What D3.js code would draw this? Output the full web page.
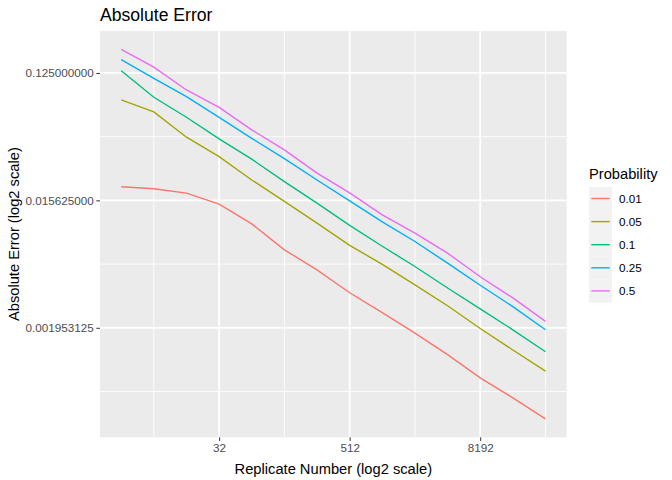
<!DOCTYPE html>
<html>
<head>
<meta charset="utf-8">
<script src="https://cdn.jsdelivr.net/npm/d3@7"></script>
<style>
  body { margin: 0; background: #fff; }
  text { font-family: "Liberation Sans", Arial, sans-serif; }
</style>
</head>
<body>
<svg id="chart" width="672" height="480"></svg>
<script>
// values
var replicates = [4, 8, 16, 32, 64, 128, 256, 512, 1024, 2048, 4096, 8192, 16384, 32768];
var probabilities = ["0.01", "0.05", "0.1", "0.25", "0.5"];
var err_p001 = [0.0195, 0.0189, 0.0176, 0.0147, 0.01065, 0.00697, 0.00503, 0.00346, 0.00250, 0.00179, 0.00126, 0.000862, 0.000622, 0.000442];
var err_p005 = [0.0805, 0.0662, 0.0438, 0.0319, 0.0218, 0.01539, 0.01078, 0.00750, 0.00550, 0.00394, 0.00280, 0.00193, 0.00136, 0.000963];
var err_p01  = [0.1297, 0.0841, 0.0607, 0.0426, 0.0306, 0.0212, 0.01494, 0.01039, 0.00739, 0.00531, 0.00374, 0.00266, 0.00189, 0.00132];
var err_p025 = [0.1553, 0.1146, 0.0849, 0.0605, 0.0430, 0.0309, 0.0218, 0.01551, 0.0110, 0.00799, 0.00561, 0.00391, 0.00276, 0.00189];
var err_p05  = [0.1834, 0.1373, 0.0947, 0.0713, 0.0494, 0.0356, 0.0244, 0.01768, 0.01235, 0.00916, 0.00661, 0.00449, 0.00318, 0.002167];
var xBreaks = [32, 512, 8192];
var xMinor = [8, 128, 2048, 32768];
var yBreaks = [0.125, 0.015625, 0.001953125];
var yMinor = [0.04419417, 0.005524272, 0.000690534];
var colors = ["#F8766D", "#A3A500", "#00BF7D", "#00B0F6", "#E76BF3"];

var series = [err_p001, err_p005, err_p01, err_p025, err_p05].map(function(vals, i) {
  return {
    prob: probabilities[i],
    color: colors[i],
    values: vals.map(function(v, j) { return { n: replicates[j], e: v }; })
  };
});

var svg = d3.select("#chart");
var pLeft = 100, pRight = 566.7, pTop = 31, pBottom = 437.3;

// ggplot style 5% expansion on the log2 scale
function expand(ext) {
  var pad = (ext[1] - ext[0]) * 0.05;
  return [Math.pow(2, ext[0] - pad), Math.pow(2, ext[1] + pad)];
}
var allErr = [].concat(err_p001, err_p005, err_p01, err_p025, err_p05);

var x = d3.scaleLog().base(2)
    .domain(expand(d3.extent(replicates.map(Math.log2))))
    .range([pLeft, pRight]);
var y = d3.scaleLog().base(2)
    .domain(expand(d3.extent(allErr.map(Math.log2))))
    .range([pBottom, pTop]);

svg.append("rect")
    .attr("x", pLeft).attr("y", pTop)
    .attr("width", pRight - pLeft).attr("height", pBottom - pTop)
    .attr("fill", "#EBEBEB");

var grid = svg.append("g");
grid.selectAll(".ymin").data(yMinor).enter().append("line")
    .attr("x1", pLeft).attr("x2", pRight)
    .attr("y1", y).attr("y2", y)
    .attr("stroke", "#fff").attr("stroke-width", 0.9);
grid.selectAll(".xmin").data(xMinor).enter().append("line")
    .attr("y1", pTop).attr("y2", pBottom)
    .attr("x1", x).attr("x2", x)
    .attr("stroke", "#fff").attr("stroke-width", 0.9);
grid.selectAll(".ymaj").data(yBreaks).enter().append("line")
    .attr("x1", pLeft).attr("x2", pRight)
    .attr("y1", y).attr("y2", y)
    .attr("stroke", "#fff").attr("stroke-width", 1.8);
grid.selectAll(".xmaj").data(xBreaks).enter().append("line")
    .attr("y1", pTop).attr("y2", pBottom)
    .attr("x1", x).attr("x2", x)
    .attr("stroke", "#fff").attr("stroke-width", 1.8);

var line = d3.line()
    .x(function(d) { return x(d.n); })
    .y(function(d) { return y(d.e); });

svg.selectAll(".series")
    .data(series)
    .enter()
  .append("path")
    .attr("class", "series")
    .attr("fill", "none")
    .attr("stroke", function(d) { return d.color; })
    .attr("stroke-width", 1.4)
    .attr("d", function(d) { return line(d.values); });

var xAxis = svg.append("g")
    .attr("transform", "translate(0," + pBottom + ")")
    .call(d3.axisBottom(x).tickValues(xBreaks).tickFormat(d3.format("d")).tickSizeInner(3.7).tickSizeOuter(0).tickPadding(2.5));
var yAxis = svg.append("g")
    .attr("transform", "translate(" + pLeft + ",0)")
    .call(d3.axisLeft(y).tickValues(yBreaks).tickFormat(d3.format(".9f")).tickSizeInner(3.7).tickSizeOuter(0).tickPadding(2.5));

[xAxis, yAxis].forEach(function(a) {
  a.select(".domain").remove();
  a.selectAll(".tick line").attr("stroke", "#333333").attr("stroke-width", 1);
  a.selectAll(".tick text").attr("fill", "#4D4D4D").style("font-size", "11.7px")
      .style("font-family", "'Liberation Sans', Arial, sans-serif");
});

svg.append("text")
    .attr("x", pLeft).attr("y", 21)
    .style("font-size", "17.6px")
    .text("Absolute Error");

svg.append("text")
    .attr("x", (pLeft + pRight) / 2).attr("y", 474)
    .attr("text-anchor", "middle")
    .style("font-size", "14.7px")
    .text("Replicate Number (log2 scale)");

svg.append("text")
    .attr("transform", "translate(19," + ((pTop + pBottom) / 2) + ") rotate(-90)")
    .attr("text-anchor", "middle")
    .style("font-size", "14.7px")
    .text("Absolute Error (log2 scale)");

// legend
var legend = svg.append("g").attr("transform", "translate(589,0)");
legend.append("text")
    .attr("x", 0).attr("y", 179)
    .style("font-size", "14.7px")
    .text("Probability");

var keys = legend.selectAll(".key")
    .data(series)
    .enter()
  .append("g")
    .attr("class", "key")
    .attr("transform", function(d, i) { return "translate(0," + (187 + i * 23.1) + ")"; });

keys.append("rect")
    .attr("width", 23).attr("height", 23.1)
    .attr("fill", "#F2F2F2");
keys.append("line")
    .attr("x1", 2.3).attr("x2", 20.7)
    .attr("y1", 11.5).attr("y2", 11.5)
    .attr("stroke", function(d) { return d.color; })
    .attr("stroke-width", 1.4);
keys.append("text")
    .attr("x", 30).attr("y", 11.5)
    .attr("dy", "0.35em")
    .style("font-size", "11.7px")
    .text(function(d) { return d.prob; });
</script>
</body>
</html>
